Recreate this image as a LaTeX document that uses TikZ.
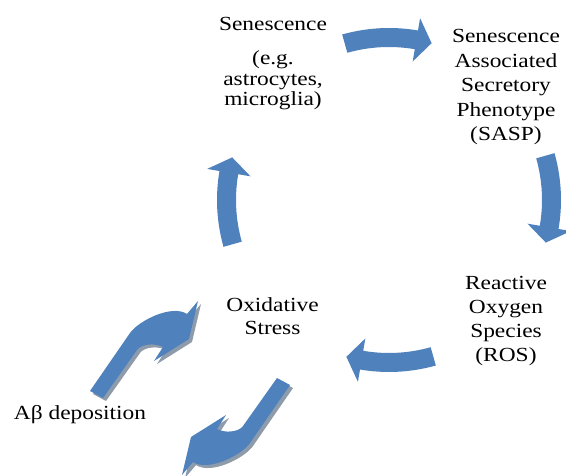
\documentclass[tikz,border=0pt]{standalone}
\usepackage{fontspec}
\setmainfont{Liberation Serif}[FakeStretch=1.17]
\definecolor{arrowblue}{HTML}{4F81BD}
\definecolor{shadowgrey}{HTML}{8D9BAB}
\tikzset{
  % multi-line labels sit on the baseline of their last line
  label text/.style={align=center, inner sep=0pt, anchor=base,
    font=\fontsize{20}{24.5}\selectfont},
}
% curved block arrow on the cycle circle; #1 = angle of its tail
\newcommand\cyclearrow[1]{%
  \fill[arrowblue] (#1:172) arc[start angle=#1, end angle=#1-25.5, radius=172]
    -- (#1-25.5:184.5) -- (#1-31:162.5) -- (#1-25.5:140.5)
    -- (#1-25.5:153) arc[start angle=#1-25.5, end angle=#1, radius=153] -- cycle;}
% bent block arrow; #1 = fill options and placement
\newcommand\bentarrow[1]{%
  \fill[#1] (90,85) -- (130,143) .. controls (138.6,155.3) and (172,172) .. (187,162)
    -- (198,175) -- (189,137) -- (154,115) -- (163,129)
    .. controls (156,133) and (141.6,132.6) .. (137,126) -- (103,78) -- cycle;}
\begin{document}
\begin{tikzpicture}[x=1pt, y=1pt]
  \useasboundingbox (0,0) rectangle (566,476);

  % the four arrows of the cycle
  \begin{scope}[shift={(389,276)}]
    \cyclearrow{105.8}
    \cyclearrow{15.8}
    \cyclearrow{-74.2}
    \cyclearrow{-164.2}
  \end{scope}

  % the two bent arrows with their shadows
  \bentarrow{shadowgrey, shift={(3,-3)}}
  \bentarrow{arrowblue}
  \bentarrow{shadowgrey, shift={(3,-3)}, rotate around={180:(190,88)}}
  \bentarrow{arrowblue, rotate around={180:(190,88)}}

  % labels
  \node[label text, font=\fontsize{20}{20.5}\selectfont] (sen) at (273,370)
    {Senescence\\[13.5pt](e.g.\\astrocytes,\\microglia)};
  \node[label text] (sasp) at (506,335)
    {Senescence\\Associated\\Secretory\\Phenotype\\(SASP)};
  \node[label text, font=\fontsize{20}{24}\selectfont] (ros) at (506,114.3)
    {Reactive\\Oxygen\\Species\\(ROS)};
  \node[label text, font=\fontsize{20}{23.5}\selectfont] (ox) at (272.5,141)
    {Oxidative\\Stress};
  \node[label text] (ab) at (80,56) {Aβ deposition};
\end{tikzpicture}
\end{document}
